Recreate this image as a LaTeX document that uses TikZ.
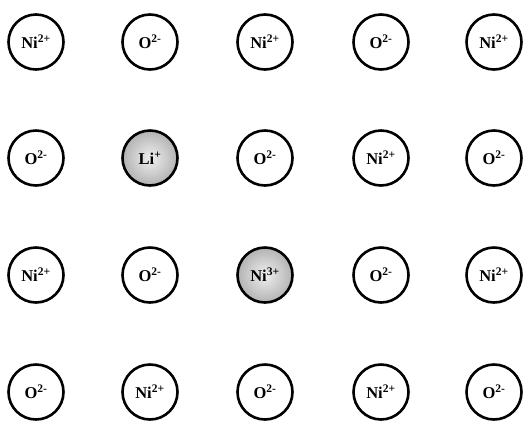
\documentclass[tikz,border=0pt]{standalone}
\usepackage{fontspec}
\setmainfont{Liberation Serif}
\begin{document}
\begin{tikzpicture}[x=1pt,y=-1pt,
  ion/.style={circle,draw=black,line width=2.6pt,minimum size=55pt,inner sep=0pt,fill=white,
    font=\fontsize{16.5}{16.5}\selectfont\bfseries},
  doped/.style={ion,inner color=gray!12,outer color=gray!60}]
\useasboundingbox (0,0) rectangle (524,424);
\def\ni{Ni\textsuperscript{2+}}
\def\ox{O\textsuperscript{2-}}
% row 1
\node[ion] (a1) at (36,42)  {\ni};
\node[ion] (a2) at (150,42) {\ox};
\node[ion] (a3) at (265,42) {\ni};
\node[ion] (a4) at (381,42) {\ox};
\node[ion] (a5) at (494,42) {\ni};
% row 2
\node[ion]   (b1) at (36,158)  {\ox};
\node[doped] (b2) at (150,158) {Li\textsuperscript{+}};
\node[ion]   (b3) at (265,158) {\ox};
\node[ion]   (b4) at (381,158) {\ni};
\node[ion]   (b5) at (494,158) {\ox};
% row 3
\node[ion]   (c1) at (36,275)  {\ni};
\node[ion]   (c2) at (150,275) {\ox};
\node[doped] (c3) at (265,275) {Ni\textsuperscript{3+}};
\node[ion]   (c4) at (381,275) {\ox};
\node[ion]   (c5) at (494,275) {\ni};
% row 4
\node[ion] (d1) at (36,392)  {\ox};
\node[ion] (d2) at (150,392) {\ni};
\node[ion] (d3) at (265,392) {\ox};
\node[ion] (d4) at (381,392) {\ni};
\node[ion] (d5) at (494,392) {\ox};
\end{tikzpicture}
\end{document}
